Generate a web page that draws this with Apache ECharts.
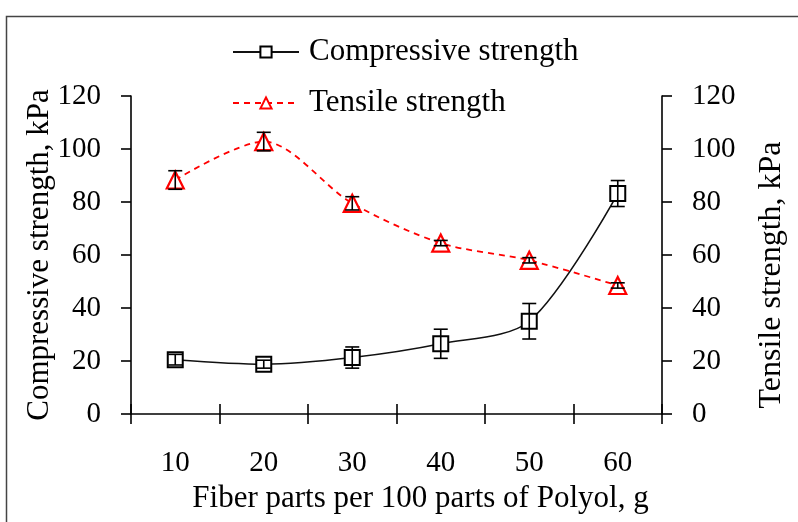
<!DOCTYPE html>
<html>
<head>
<meta charset="utf-8">
<script src="https://cdn.jsdelivr.net/npm/echarts@6/dist/echarts.min.js"></script>
<style>html,body{margin:0;padding:0;background:#fff;}#c{width:798px;height:522px;}</style>
</head>
<body>
<div id="c"></div>
<script>
var categories = ['10', '20', '30', '40', '50', '60'];
var compressive = [20.5, 18.8, 21.3, 26.5, 35, 83.2];
var compressiveErr = [2, 1.5, 4, 5.5, 6.7, 4.9];
var tensile = [88.3, 102.8, 79.5, 64.5, 58, 48.5];
var tensileErr = [3.5, 3.5, 2.5, 1, 1, 1];
var yTicks = [0, 20, 40, 60, 80, 100, 120];

var FONT = '"Liberation Serif", "Times New Roman", serif';

function errData(vals, errs) {
  return vals.map(function (v, i) { return [i, v - errs[i], v + errs[i]]; });
}
function errRender(params, api) {
  var x = api.value(0);
  var lo = api.coord([x, api.value(1)]);
  var hi = api.coord([x, api.value(2)]);
  var hw = 7;
  var st = { stroke: '#000', lineWidth: 1.6 };
  return {
    type: 'group',
    children: [
      { type: 'line', shape: { x1: lo[0], y1: lo[1], x2: hi[0], y2: hi[1] }, style: st },
      { type: 'line', shape: { x1: lo[0] - hw, y1: lo[1], x2: lo[0] + hw, y2: lo[1] }, style: st },
      { type: 'line', shape: { x1: hi[0] - hw, y1: hi[1], x2: hi[0] + hw, y2: hi[1] }, style: st }
    ]
  };
}

var chart = echarts.init(document.getElementById('c'), null, { renderer: 'canvas' });
var yMin = yTicks[0], yMax = yTicks[yTicks.length - 1], yStep = yTicks[1] - yTicks[0];

chart.setOption({
  animation: false,
  backgroundColor: '#fff',
  textStyle: { fontFamily: FONT, color: '#000' },
  graphic: [{
    type: 'rect', left: 4, top: 14, shape: { width: 830, height: 600 },
    style: { fill: 'none', stroke: '#444', lineWidth: 1.5 }, silent: true
  }],
  legend: {
    orient: 'vertical',
    left: 227, top: 31,
    itemWidth: 66, itemHeight: 14, itemGap: 19,
    textStyle: { fontFamily: FONT, fontSize: 31, color: '#000', lineHeight: 32, padding: [0, 0, 0, 5] },
    data: ['Compressive strength', 'Tensile strength']
  },
  grid: { left: 131, right: 136, top: 96, bottom: 108, containLabel: false },
  xAxis: [{
    type: 'category',
    data: categories,
    boundaryGap: true,
    axisLine: { lineStyle: { color: '#000', width: 1.6 } },
    axisTick: { show: true, inside: false, length: 10, alignWithLabel: false, lineStyle: { color: '#000', width: 1.6 } },
    axisLabel: { fontFamily: FONT, fontSize: 29, color: '#000', margin: 35 },
    name: 'Fiber parts per 100 parts of Polyol, g',
    nameLocation: 'middle',
    nameGap: 69,
    nameMoveOverlap: false,
    nameTextStyle: { fontFamily: FONT, fontSize: 31, color: '#000', padding: [0, 0, 0, 48] },
    splitLine: { show: false }
  }, {
    type: 'category',
    data: categories,
    position: 'bottom',
    offset: 0,
    boundaryGap: true,
    axisLine: { show: false },
    axisTick: { show: true, inside: true, length: 10, lineStyle: { color: '#000', width: 1.6 } },
    axisLabel: { show: false },
    splitLine: { show: false }
  }],
  yAxis: [{
    type: 'value',
    min: yMin, max: yMax, interval: yStep,
    position: 'left',
    axisLine: { show: true, lineStyle: { color: '#000', width: 1.6 } },
    axisTick: { show: true, inside: false, length: 10, lineStyle: { color: '#000', width: 1.6 } },
    axisLabel: { fontFamily: FONT, fontSize: 29, color: '#000', margin: 30 },
    splitLine: { show: false },
    name: 'Compressive strength, kPa',
    nameLocation: 'middle',
    nameGap: 76,
    nameMoveOverlap: false,
    nameTextStyle: { fontFamily: FONT, fontSize: 31, color: '#000' }
  }, {
    type: 'value',
    min: yMin, max: yMax, interval: yStep,
    position: 'right',
    axisLine: { show: true, lineStyle: { color: '#000', width: 1.6 } },
    axisTick: { show: true, inside: false, length: 10, lineStyle: { color: '#000', width: 1.6 } },
    axisLabel: { fontFamily: FONT, fontSize: 29, color: '#000', margin: 30 },
    splitLine: { show: false },
    name: 'Tensile strength, kPa',
    nameLocation: 'middle',
    nameGap: 94,
    nameMoveOverlap: false,
    nameTextStyle: { fontFamily: FONT, fontSize: 32, color: '#000', padding: [0, 40, 0, 0] }
  }],
  series: [{
    name: 'Compressive strength',
    type: 'line',
    yAxisIndex: 0,
    data: compressive,
    smooth: 0.3,
    symbol: 'rect',
    symbolSize: 15,
    itemStyle: { color: '#fff', borderColor: '#000', borderWidth: 2 },
    lineStyle: { color: '#111', width: 1.6, type: 'solid' },
    z: 3
  }, {
    name: 'Tensile strength',
    type: 'line',
    yAxisIndex: 1,
    data: tensile,
    smooth: 0.3,
    symbol: 'triangle',
    symbolSize: 17,
    itemStyle: { color: '#fff', borderColor: '#ff0000', borderWidth: 2.2 },
    lineStyle: { color: '#ff0000', width: 1.8, type: [6, 5] },
    z: 3
  }, {
    type: 'custom',
    name: 'cErr',
    yAxisIndex: 0,
    renderItem: errRender,
    data: errData(compressive, compressiveErr),
    encode: { x: 0, y: [1, 2] },
    z: 5,
    silent: true
  }, {
    type: 'custom',
    name: 'tErr',
    yAxisIndex: 1,
    renderItem: errRender,
    data: errData(tensile, tensileErr),
    encode: { x: 0, y: [1, 2] },
    z: 5,
    silent: true
  }]
});
</script>
</body>
</html>
